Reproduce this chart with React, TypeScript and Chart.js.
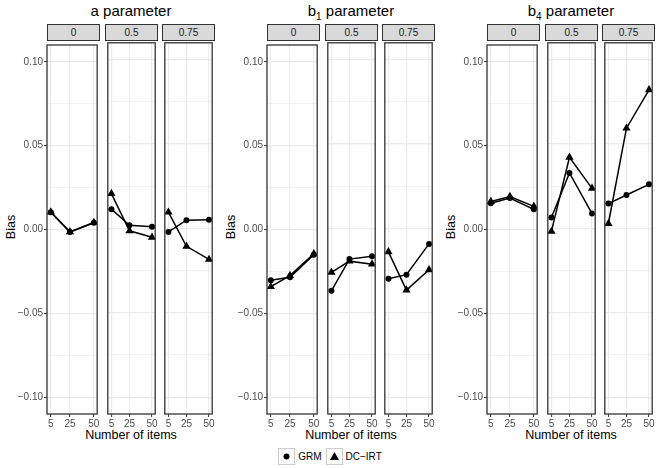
import React, { useEffect, useRef } from 'react';
import { Chart, registerables } from 'chart.js';

Chart.register(...registerables);

// ---- data ----
const itemCounts = [5, 25, 50];
const facetLabels = ['0', '0.5', '0.75'];
const yTickValues = [-0.1, -0.075, -0.05, -0.025, 0, 0.025, 0.05, 0.075, 0.1];
const seriesNames = ['GRM', 'DC−IRT'];
const groupTitles = ['a', 'b1', 'b4'];

// one array per facet (0, 0.5, 0.75), values at 5, 25, 50 items
const grmA = [[0.0103, -0.0015, 0.004], [0.0114, 0.0018, 0.001], [-0.0021, 0.0049, 0.0051]];
const dcA = [[0.0104, -0.0014, 0.0042], [0.0206, -0.0014, -0.0053], [0.0096, -0.0106, -0.0184]];
const grmB1 = [[-0.0303, -0.0285, -0.015], [-0.037, -0.0182, -0.0165], [-0.0298, -0.0274, -0.0092]];
const dcB1 = [[-0.0341, -0.0275, -0.0145], [-0.026, -0.0194, -0.0212], [-0.0139, -0.0366, -0.0245]];
const grmB4 = [[0.0157, 0.0188, 0.012], [0.0065, 0.0329, 0.0088], [0.0147, 0.0198, 0.0261]];
const dcB4 = [[0.0167, 0.0196, 0.0138], [-0.0018, 0.0421, 0.0237], [0.0029, 0.0594, 0.0821]];

const grmByGroup = [grmA, grmB1, grmB4];
const dcByGroup = [dcA, dcB1, dcB4];

const FONT = '"Liberation Sans", Arial, Helvetica, sans-serif';

const isMajorY = (v: number) => Math.abs(Math.round(v * 1000)) % 50 === 0;
const fmtY = (v: number) => {
  const s = Math.abs(v).toFixed(2);
  return v < -1e-9 ? '−' + s : s;
};

const borderPlugin = {
  id: 'panelBorder',
  afterDraw(chart: any) {
    const { ctx, chartArea: a } = chart;
    ctx.save();
    ctx.strokeStyle = '#333333';
    ctx.lineWidth = 1.3;
    ctx.strokeRect(a.left, a.top, a.right - a.left, a.bottom - a.top);
    ctx.restore();
  },
};

const PANEL_TOP = 40;
const PANEL_H = 374;
const PANEL_W = 53;
const PANEL_OFFSETS = [47, 105, 162];
const GROUP_W = 220;
const X_AXIS_H = 16;
const Y_AXIS_W = 40;

function Panel(props: { left: number; showY: boolean; grm: number[]; dc: number[] }) {
  const { left, showY, grm, dc } = props;
  const ref = useRef<HTMLCanvasElement>(null);
  const padL = showY ? Y_AXIS_W : 2;
  const cw = padL + PANEL_W + 2;
  const ch = 2 + PANEL_H + X_AXIS_H;

  useEffect(() => {
    const chart = new Chart(ref.current as HTMLCanvasElement, {
      type: 'line',
      data: {
        datasets: [
          {
            label: seriesNames[0],
            data: itemCounts.map((x, i) => ({ x, y: grm[i] })),
            borderColor: '#000',
            backgroundColor: '#000',
            borderWidth: 1.5,
            pointStyle: 'circle',
            pointRadius: 3,
            pointBorderWidth: 0,
            pointBackgroundColor: '#000',
          },
          {
            label: seriesNames[1],
            data: itemCounts.map((x, i) => ({ x, y: dc[i] })),
            borderColor: '#000',
            backgroundColor: '#000',
            borderWidth: 1.5,
            pointStyle: 'triangle',
            pointRadius: 4.8,
            pointBorderWidth: 0,
            pointBackgroundColor: '#000',
          },
        ],
      },
      options: {
        responsive: false,
        animation: false,
        events: [],
        layout: { padding: { left: showY ? 0 : 2, right: 2, top: 2, bottom: 0 } },
        plugins: { legend: { display: false }, tooltip: { enabled: false } },
        scales: {
          x: {
            type: 'linear',
            min: 1,
            max: 53.5,
            afterBuildTicks: (s: any) => {
              s.ticks = itemCounts.map((v) => ({ value: v }));
            },
            afterFit: (s: any) => {
              s.height = X_AXIS_H;
            },
            border: { display: false },
            grid: {
              color: '#EBEBEB',
              lineWidth: 1.2,
              drawTicks: true,
              tickLength: 3,
              tickColor: '#333333',
              tickWidth: 1,
            },
            ticks: {
              autoSkip: false,
              maxRotation: 0,
              minRotation: 0,
              padding: 1,
              color: '#4D4D4D',
              font: { family: FONT, size: 10 },
              callback: (v: any) => String(v),
            },
          },
          y: {
            type: 'linear',
            min: -0.11,
            max: 0.11,
            afterBuildTicks: (s: any) => {
              s.ticks = yTickValues.map((v) => ({ value: v }));
            },
            afterFit: (s: any) => {
              s.width = showY ? Y_AXIS_W : 0;
            },
            border: { display: false },
            grid: {
              color: '#EBEBEB',
              lineWidth: (c: any) => (isMajorY(c.tick ? c.tick.value : 0) ? 1.2 : 0.6),
              drawTicks: showY,
              tickLength: 3,
              tickWidth: 1,
              tickColor: (c: any) =>
                c.tick && isMajorY(c.tick.value) ? '#333333' : 'rgba(0,0,0,0)',
            },
            ticks: {
              display: showY,
              autoSkip: false,
              padding: 1,
              color: '#4D4D4D',
              font: { family: FONT, size: 10 },
              callback: (v: any) => (isMajorY(Number(v)) ? fmtY(Number(v)) : ''),
            },
          },
        },
      },
      plugins: [borderPlugin],
    } as any);
    return () => chart.destroy();
  }, []);

  return (
    <canvas
      ref={ref}
      width={cw}
      height={ch}
      style={{
        position: 'absolute',
        left: left - padL,
        top: PANEL_TOP - 2,
        width: cw,
        height: ch,
      }}
    />
  );
}

function GroupTitle({ g }: { g: number }) {
  const t = groupTitles[g];
  if (t === 'a') return <>a parameter</>;
  return (
    <>
      b
      <span style={{ fontSize: 10, position: 'relative', top: 4 }}>{t.slice(1)}</span> parameter
    </>
  );
}

export default function App() {
  const groups = [0, 1, 2];
  return (
    <div
      style={{
        position: 'absolute',
        left: 0,
        top: 0,
        width: 660,
        height: 468,
        background: '#fff',
        fontFamily: FONT,
        overflow: 'hidden',
      }}
    >
      {groups.map((g) => {
        const gx = g * GROUP_W;
        const blockLeft = gx + PANEL_OFFSETS[0];
        const blockRight = gx + PANEL_OFFSETS[2] + PANEL_W;
        return (
          <React.Fragment key={g}>
            <div
              style={{
                position: 'absolute',
                left: blockLeft,
                width: blockRight - blockLeft,
                top: 2,
                lineHeight: '17px',
                fontSize: 15,
                textAlign: 'center',
                color: '#000',
                whiteSpace: 'nowrap',
              }}
            >
              <GroupTitle g={g} />
            </div>
            <div
              style={{
                position: 'absolute',
                left: gx + 10.5,
                top: PANEL_TOP + PANEL_H / 2,
                transform: 'translate(-50%, -50%) rotate(-90deg)',
                fontSize: 12.5,
                whiteSpace: 'nowrap',
                color: '#000',
              }}
            >
              Bias
            </div>
            <div
              style={{
                position: 'absolute',
                left: blockLeft,
                width: blockRight - blockLeft,
                top: 427,
                lineHeight: '16px',
                fontSize: 12.5,
                textAlign: 'center',
                color: '#000',
                whiteSpace: 'nowrap',
              }}
            >
              Number of items
            </div>
            {facetLabels.map((f, p) => {
              const left = gx + PANEL_OFFSETS[p];
              return (
                <React.Fragment key={f}>
                  <div
                    style={{
                      position: 'absolute',
                      left,
                      top: 24,
                      width: PANEL_W,
                      height: 17,
                      boxSizing: 'border-box',
                      background: '#D9D9D9',
                      border: '1.2px solid #333333',
                      fontSize: 10,
                      lineHeight: '15px',
                      textAlign: 'center',
                      color: '#1A1A1A',
                    }}
                  >
                    {f}
                  </div>
                  <Panel
                    left={left}
                    showY={p === 0}
                    grm={grmByGroup[g][p]}
                    dc={dcByGroup[g][p]}
                  />
                </React.Fragment>
              );
            })}
          </React.Fragment>
        );
      })}
      <div
        style={{
          position: 'absolute',
          left: 0,
          width: 660,
          top: 448,
          height: 17,
          display: 'flex',
          justifyContent: 'center',
          alignItems: 'center',
          fontSize: 10,
          color: '#000',
        }}
      >
        {seriesNames.map((n, i) => (
          <div key={n} style={{ display: 'flex', alignItems: 'center', marginLeft: i ? 4 : 0 }}>
            <svg width={17} height={17} style={{ display: 'block' }}>
              <rect x={0.5} y={0.5} width={16} height={16} fill="#fff" stroke="#CCCCCC" />
              {i === 0 ? (
                <circle cx={8.5} cy={8.5} r={3} fill="#000" />
              ) : (
                <polygon points="8.5,4 13,12 4,12" fill="#000" />
              )}
            </svg>
            <span style={{ marginLeft: 3 }}>{n}</span>
          </div>
        ))}
      </div>
    </div>
  );
}
